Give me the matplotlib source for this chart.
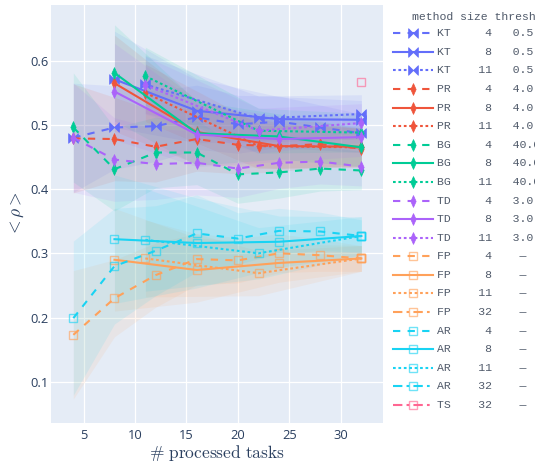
import numpy as np
import matplotlib
matplotlib.use('Agg')
import matplotlib.pyplot as plt
from matplotlib.path import Path
from matplotlib.lines import Line2D

plt.rcParams['mathtext.fontset'] = 'cm'

# ----- Datos -----
X4 = [4, 8, 12, 16, 20, 24, 28, 32]
X8 = [8, 16, 24, 32]
X11 = [11, 22, 32]
X32 = [32]

KT_4 = [0.480, 0.496, 0.498, 0.512, 0.501, 0.505, 0.496, 0.487]
KT_8 = [0.571, 0.522, 0.509, 0.508]
KT_11 = [0.563, 0.510, 0.517]
PR_4 = [0.479, 0.478, 0.466, 0.478, 0.469, 0.467, 0.470, 0.463]
PR_8 = [0.565, 0.489, 0.467, 0.466]
PR_11 = [0.550, 0.467, 0.465]
BG_4 = [0.496, 0.431, 0.457, 0.457, 0.423, 0.426, 0.432, 0.429]
BG_8 = [0.581, 0.487, 0.482, 0.465]
BG_11 = [0.576, 0.491, 0.488]
TD_4 = [0.480, 0.446, 0.439, 0.441, 0.432, 0.441, 0.443, 0.435]
TD_8 = [0.552, 0.485, 0.478, 0.481]
TD_11 = [0.562, 0.491, 0.503]
FP_4 = [0.173, 0.230, 0.266, 0.291, 0.289, 0.300, 0.297, 0.292]
FP_8 = [0.290, 0.274, 0.285, 0.292]
FP_11 = [0.292, 0.269, 0.292]
FP_32 = [0.292]
AR_4 = [0.199, 0.280, 0.304, 0.331, 0.323, 0.335, 0.334, 0.327]
AR_8 = [0.322, 0.316, 0.318, 0.327]
AR_11 = [0.321, 0.300, 0.327]
AR_32 = [0.327]
TS_32 = [0.567]

# desviaciones (bandas sombreadas)
STD_TOP_4 = [0.085, 0.065, 0.055, 0.05, 0.045, 0.04, 0.035, 0.03]
STD_TOP_8 = [0.075, 0.05, 0.035, 0.03]
STD_TOP_11 = [0.045, 0.035, 0.03]
STD_FP_4 = [0.10, 0.06, 0.05, 0.04, 0.035, 0.03, 0.025, 0.02]
STD_FP_8 = [0.08, 0.05, 0.03, 0.02]
STD_FP_11 = [0.06, 0.035, 0.02]
STD_AR_4 = [0.12, 0.09, 0.07, 0.06, 0.04, 0.035, 0.03, 0.025]
STD_AR_8 = [0.10, 0.07, 0.04, 0.03]
STD_AR_11 = [0.08, 0.04, 0.03]
STD_NONE = [0.0]

METODOS = ['KT', 'KT', 'KT', 'PR', 'PR', 'PR', 'BG', 'BG', 'BG', 'TD', 'TD', 'TD',
           'FP', 'FP', 'FP', 'FP', 'AR', 'AR', 'AR', 'AR', 'TS']
TAMANOS = [4, 8, 11, 4, 8, 11, 4, 8, 11, 4, 8, 11, 4, 8, 11, 32, 4, 8, 11, 32, 32]
UMBRALES = {'KT': '0.5', 'PR': '4.0', 'BG': '40.0', 'TD': '3.0', 'FP': ' —', 'AR': ' —', 'TS': ' —'}
VALORES = [KT_4, KT_8, KT_11, PR_4, PR_8, PR_11, BG_4, BG_8, BG_11, TD_4, TD_8, TD_11,
           FP_4, FP_8, FP_11, FP_32, AR_4, AR_8, AR_11, AR_32, TS_32]
DESV = [STD_TOP_4, STD_TOP_8, STD_TOP_11] * 4 + \
       [STD_FP_4, STD_FP_8, STD_FP_11, STD_NONE, STD_AR_4, STD_AR_8, STD_AR_11, STD_NONE, STD_NONE]
XS = {4: X4, 8: X8, 11: X11, 32: X32}

COLORES = {'KT': '#636EFA', 'PR': '#EF553B', 'BG': '#00CC96', 'TD': '#AB63FA',
           'FP': '#FFA15A', 'AR': '#19D3F3', 'TS': '#FF6692'}
ESTILOS = {4: (0, (3.5, 3.5)), 8: '-', 11: (0, (1.3, 1.3)), 32: (0, (4.5, 2, 1.3, 2))}

# ----- Marcadores -----
bowtie = Path([(-1, -1), (0, 0), (-1, 1), (-1, -1), (1, -1), (0, 0), (1, 1), (1, -1)],
              [1, 2, 2, 79, 1, 2, 2, 79])
diamante = Path([(0, 1), (0.45, 0), (0, -1), (-0.45, 0), (0, 1)], [1, 2, 2, 2, 79])


def estilo_marcador(m):
    c = COLORES[m]
    if m == 'KT':
        return dict(marker=bowtie, markersize=7, markerfacecolor=c, markeredgecolor=c, markeredgewidth=0.5)
    if m in ('PR', 'BG', 'TD'):
        return dict(marker=diamante, markersize=8.5, markerfacecolor=c, markeredgecolor=c, markeredgewidth=0.5)
    return dict(marker='s', markersize=6.3, markerfacecolor='none', markeredgecolor=c + 'A0', markeredgewidth=1.0)


# ----- Gráfico -----
fig = plt.figure(figsize=(5.35, 4.62), dpi=100)
ax = fig.add_axes([51 / 535, 1 - 423.3 / 462, 332 / 535, 418.3 / 462])
ax.set_facecolor('#E5ECF6')

# bandas primero
for m, s, vals, sd in zip(METODOS, TAMANOS, VALORES, DESV):
    if len(vals) < 2:
        continue
    v = np.array(vals)
    d = np.array(sd)
    ax.fill_between(XS[s], v - d, v + d, color=COLORES[m], alpha=0.1, lw=0, zorder=1)

for m, s, vals in zip(METODOS, TAMANOS, VALORES):
    ax.plot(XS[s], vals, color=COLORES[m], ls=ESTILOS[s], lw=1.5, zorder=3, **estilo_marcador(m))

ax.set_xlim(1.83, 34.1)
ax.set_ylim(0.0352, 0.6868)
ax.set_xticks([5, 10, 15, 20, 25, 30])
ax.set_yticks([0.1, 0.2, 0.3, 0.4, 0.5, 0.6])
ax.set_yticklabels(['0.1', '0.2', '0.3', '0.4', '0.5', '0.6'])
ax.grid(True, color='white', lw=0.9, zorder=0)
ax.set_axisbelow(True)
for sp in ax.spines.values():
    sp.set_visible(False)
ax.tick_params(length=0, labelsize=9.3, labelcolor='#2a3f5f', pad=4)
ax.tick_params(axis='y', pad=2)
for lab in ax.get_xticklabels() + ax.get_yticklabels():
    lab.set_family('Open Sans')

ax.set_xlabel(r'$\#\ \mathrm{processed\ tasks}$', fontsize=12.5, color='#2a3f5f', labelpad=1)
ax.set_ylabel(r'$<\rho>$', fontsize=12.5, color='#2a3f5f', labelpad=3)

# ----- Leyenda (manual, en píxeles de la figura) -----
def fx(px):
    return px / 535


def fy(py):
    return 1 - py / 462


fig.text(fx(411.7), fy(16.5), 'method size thresh', family='Liberation Mono', fontsize=8.25,
         color='#505a6a', va='center', ha='left')
for i, (m, s) in enumerate(zip(METODOS, TAMANOS)):
    y = 33.3 + 18.58 * i
    fig.add_artist(Line2D([fx(393), fx(433)], [fy(y), fy(y)], transform=fig.transFigure,
                          color=COLORES[m], ls=ESTILOS[s], lw=1.5))
    fig.add_artist(Line2D([fx(413)], [fy(y)], transform=fig.transFigure, ls='none',
                          **estilo_marcador(m)))
    etiqueta = f"{m:<2}    {s:>2}   {UMBRALES[m]}"
    fig.text(fx(437.3), fy(y), etiqueta, family='Liberation Mono', fontsize=8.25,
             color='#505a6a', va='center', ha='left')

plt.savefig('out.png', dpi=100)
